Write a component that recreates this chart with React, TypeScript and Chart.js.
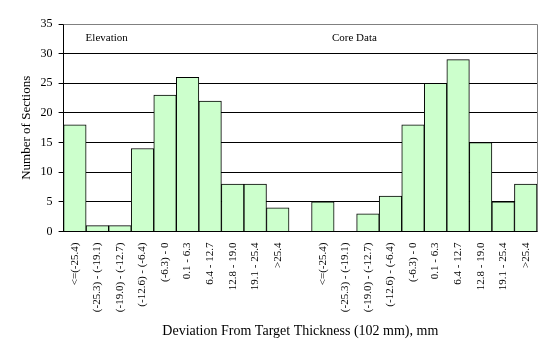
import React, { useEffect, useRef } from "react";
import { Chart, registerables } from "chart.js";

Chart.register(...registerables);

const rangeLabels = [
  "<=(-25.4)",
  "(-25.3) - (-19.1)",
  "(-19.0) - (-12.7)",
  "(-12.6) - (-6.4)",
  "(-6.3) - 0",
  "0.1 - 6.3",
  "6.4 - 12.7",
  "12.8 - 19.0",
  "19.1 - 25.4",
  ">25.4",
];
const elevationValues = [18, 1, 1, 14, 23, 26, 22, 8, 8, 4];
const coreValues = [5, 0, 3, 6, 18, 25, 29, 15, 5, 8];
const groupNames = ["Elevation", "Core Data"];
const yMax = 35;
const yStep = 5;

const FONT = "'Liberation Serif', 'Times New Roman', 'DejaVu Serif', serif";

export default function App() {
  const ref = useRef<HTMLCanvasElement | null>(null);

  useEffect(() => {
    document.body.style.margin = "0";
    const canvas = ref.current;
    if (!canvas) return;
    const labels = [...rangeLabels, "", ...rangeLabels];
    const data = [...elevationValues, null, ...coreValues];

    const annotate = {
      id: "annotate",
      afterDatasetsDraw(chart: any) {
        const { ctx, chartArea, scales } = chart;
        ctx.save();
        ctx.strokeStyle = "#808080";
        ctx.lineWidth = 1;
        ctx.beginPath();
        ctx.moveTo(chartArea.left, chartArea.top + 0.5);
        ctx.lineTo(chartArea.right + 0.5, chartArea.top + 0.5);
        ctx.lineTo(chartArea.right + 0.5, chartArea.bottom);
        ctx.stroke();
        ctx.fillStyle = "#000";
        ctx.font = `11px ${FONT}`;
        ctx.textBaseline = "middle";
        const y = scales.y.getPixelForValue(32.6);
        ctx.textAlign = "left";
        ctx.fillText(groupNames[0], chartArea.left + 22, y);
        ctx.textAlign = "center";
        ctx.fillText(groupNames[1], scales.x.getPixelForValue(12.4), y);
        ctx.restore();
      },
    };

    const chart = new Chart(canvas, {
      type: "bar",
      data: {
        labels,
        datasets: [
          {
            data,
            backgroundColor: "#CCFFCC",
            borderColor: "#000",
            borderWidth: 1,
            categoryPercentage: 1,
            barPercentage: 1,
          },
        ],
      },
      options: {
        animation: false,
        responsive: false,
        maintainAspectRatio: false,
        layout: { padding: { top: 24, right: 13, left: 19, bottom: 14 } },
        plugins: { legend: { display: false }, tooltip: { enabled: false } },
        scales: {
          x: {
            grid: { display: false },
            border: { display: true, color: "#000", width: 1 },
            ticks: {
              autoSkip: false,
              maxRotation: 90,
              minRotation: 90,
              color: "#000",
              font: { family: FONT, size: 11 },
              padding: 3,
            },
            title: {
              display: true,
              text: "Deviation From Target Thickness (102 mm), mm",
              color: "#000",
              font: { family: FONT, size: 14 },
              padding: { top: 8, bottom: 0 },
            },
          },
          y: {
            min: 0,
            max: yMax,
            ticks: {
              stepSize: yStep,
              color: "#000",
              font: { family: FONT, size: 12 },
              padding: 6,
            },
            grid: {
              color: (c: any) => (c.tick && c.tick.value === yMax ? "#808080" : "#000"),
              tickColor: "#000",
              tickLength: 5,
              lineWidth: 1,
            },
            border: { display: true, color: "#000", width: 1 },
            title: {
              display: true,
              text: "Number of Sections",
              color: "#000",
              font: { family: FONT, size: 13 },
              padding: { top: 0, bottom: 0 },
            },
          },
        },
      },
      plugins: [annotate],
    });
    return () => chart.destroy();
  }, []);

  return (
    <div style={{ position: "absolute", left: 0, top: 0, width: 550, height: 354, background: "#fff" }}>
      <canvas ref={ref} width={550} height={354} style={{ width: 550, height: 354 }} />
    </div>
  );
}
